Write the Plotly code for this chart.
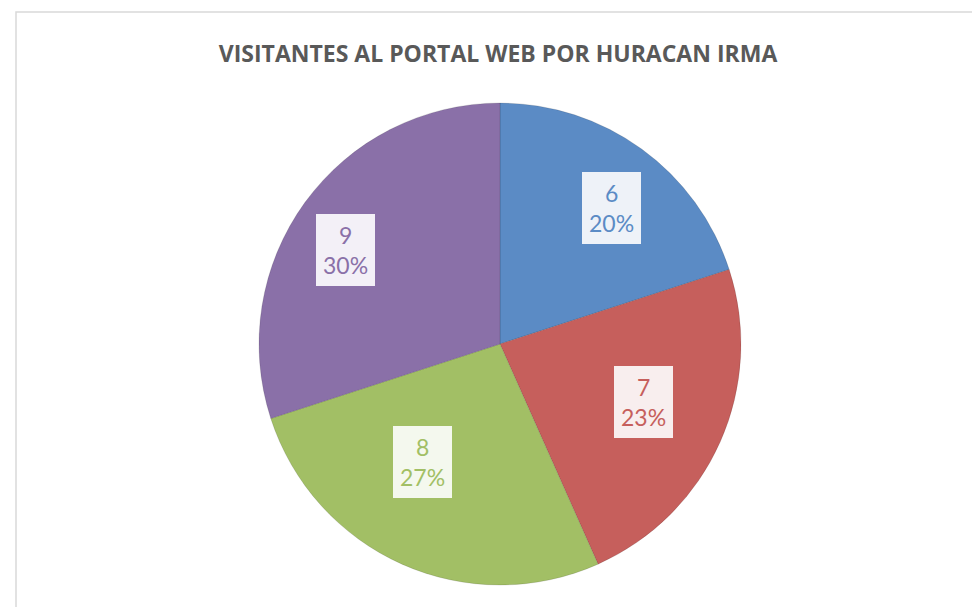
import math
import plotly.graph_objects as go

categories = ["6", "7", "8", "9"]
values = [6, 7, 8, 9]
colors = ["#5B8BC5", "#C65F5C", "#A2BF65", "#8A70A8"]
label_bg = ["#EEF2F8", "#F8EEEE", "#F4F8EE", "#F3F0F7"]
title = "VISITANTES AL PORTAL WEB POR HURACAN IRMA"

W, H = 980, 607
ml, mr, mt, mb = 22, 18, 95, 30
pw, ph = W - ml - mr, H - mt - mb
R = min(pw, ph) / 2

fig = go.Figure(go.Pie(
    labels=categories,
    values=values,
    sort=False,
    direction="clockwise",
    rotation=0,
    marker=dict(colors=colors, line=dict(color="rgba(0,0,0,0.12)", width=1)),
    textinfo="none",
    hoverinfo="label+value+percent",
    showlegend=False,
))

total = sum(values)
cum = 0
for v, c, bg in zip(values, colors, label_bg):
    mid = (cum + v / 2) / total * 2 * math.pi
    cum += v
    f = 0.79
    dx = f * R * math.sin(mid)
    dy = f * R * math.cos(mid) + 0.08 * R
    fig.add_annotation(
        x=0.5 + dx / pw, y=0.5 + dy / ph, xref="paper", yref="paper",
        text=f"{v}<br>{round(v / total * 100)}%",
        showarrow=False,
        font=dict(family="Lato, Open Sans, sans-serif", size=23, color=c),
        bgcolor=bg, bordercolor=c, borderwidth=1, borderpad=7,
    )

fig.add_shape(type="rect", xref="paper", yref="paper",
              x0=-(ml - 8) / pw, x1=(pw + mr + 5) / pw,
              y0=-(mb + 5) / ph, y1=(ph + mt - 4) / ph,
              line=dict(color="#D9D9D9", width=1.5), layer="below")

fig.update_layout(
    width=W, height=H,
    margin=dict(l=ml, r=mr, t=mt, b=mb),
    paper_bgcolor="white",
    title=dict(text=f"<b>{title}</b>", x=0.5, xanchor="center",
               yref="container", y=1 - 46 / H, yanchor="middle",
               font=dict(family="Open Sans, Lato, sans-serif", size=23, color="#595959")),
)

fig.write_html("out.html")
